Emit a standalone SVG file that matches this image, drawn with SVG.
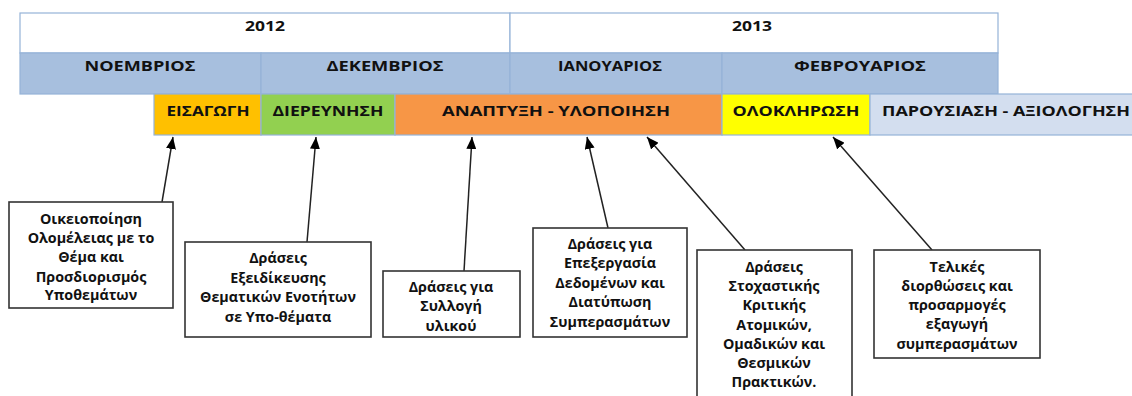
<svg xmlns="http://www.w3.org/2000/svg" width="1132" height="396" viewBox="0 0 1132 396">
<defs>
<style>
.cell{stroke:#95B3D7;stroke-width:1.2}
.hdr{font-family:"Open Sans","Liberation Sans",sans-serif;font-weight:bold;font-size:15px;fill:#111;text-anchor:middle}
.box{fill:#fff;stroke:#333;stroke-width:1.6}
.bt{font-family:"Open Sans","Liberation Sans",sans-serif;font-weight:bold;font-size:14.3px;fill:#111;text-anchor:middle}
.conn{stroke:#222;stroke-width:1.5;fill:none;marker-end:url(#ah)}
</style>
<marker id="ah" viewBox="0 0 12 10" refX="12" refY="5" markerWidth="12" markerHeight="10" markerUnits="userSpaceOnUse" orient="auto">
<path d="M0,0 L12,5 L0,10 z" fill="#000"/>
</marker>
</defs>
<rect width="1132" height="396" fill="#fff"/>

<g id="years">
<rect class="cell" x="20" y="13" width="490" height="40" fill="#fff"/>
<rect class="cell" x="510" y="13" width="488" height="40" fill="#fff"/>
<text class="hdr" x="265" y="31" textLength="40" lengthAdjust="spacingAndGlyphs">2012</text>
<text class="hdr" x="752" y="31" textLength="40" lengthAdjust="spacingAndGlyphs">2013</text>
</g>

<g id="months">
<rect class="cell" x="20" y="53" width="241" height="41" fill="#A7BFDE"/>
<rect class="cell" x="261" y="53" width="249" height="41" fill="#A7BFDE"/>
<rect class="cell" x="510" y="53" width="212" height="41" fill="#A7BFDE"/>
<rect class="cell" x="722" y="53" width="276" height="41" fill="#A7BFDE"/>
<text class="hdr" x="140" y="71" textLength="111" lengthAdjust="spacingAndGlyphs">ΝΟΕΜΒΡΙΟΣ</text>
<text class="hdr" x="385" y="71" textLength="117" lengthAdjust="spacingAndGlyphs">ΔΕΚΕΜΒΡΙΟΣ</text>
<text class="hdr" x="610" y="71" textLength="104" lengthAdjust="spacingAndGlyphs">ΙΑΝΟΥΑΡΙΟΣ</text>
<text class="hdr" x="860" y="71" textLength="132" lengthAdjust="spacingAndGlyphs">ΦΕΒΡΟΥΑΡΙΟΣ</text>
</g>

<g id="phase-eisagogi">
<rect class="cell" x="154" y="94" width="107" height="41" fill="#FFC000"/>
<text class="hdr" x="208" y="116" textLength="83" lengthAdjust="spacingAndGlyphs">ΕΙΣΑΓΩΓΗ</text>
</g>
<g id="phase-dierevnisi">
<rect class="cell" x="261" y="94" width="134" height="41" fill="#92D050"/>
<text class="hdr" x="328" y="116" textLength="111" lengthAdjust="spacingAndGlyphs">ΔΙΕΡΕΥΝΗΣΗ</text>
</g>
<g id="phase-anaptyxi">
<rect class="cell" x="395" y="94" width="327" height="41" fill="#F79646"/>
<text class="hdr" x="556" y="116" textLength="228" lengthAdjust="spacingAndGlyphs">ΑΝΑΠΤΥΞΗ - ΥΛΟΠΟΙΗΣΗ</text>
</g>
<g id="phase-oloklirosi">
<rect class="cell" x="722" y="94" width="148" height="41" fill="#FFFF00"/>
<text class="hdr" x="796" y="116" textLength="127" lengthAdjust="spacingAndGlyphs">ΟΛΟΚΛΗΡΩΣΗ</text>
</g>
<g id="phase-parousiasi">
<rect class="cell" x="870" y="94" width="270" height="41" fill="#D3DEEF"/>
<text class="hdr" x="1006" y="116" textLength="248" lengthAdjust="spacingAndGlyphs">ΠΑΡΟΥΣΙΑΣΗ - ΑΞΙΟΛΟΓΗΣΗ</text>
</g>

<g id="connectors">
<line class="conn" x1="162" y1="202" x2="173" y2="137"/>
<line class="conn" x1="307" y1="242" x2="316" y2="137"/>
<line class="conn" x1="464" y1="271" x2="472" y2="137"/>
<line class="conn" x1="608" y1="228" x2="587" y2="137"/>
<line class="conn" x1="745" y1="250" x2="647" y2="137"/>
<line class="conn" x1="932" y1="250" x2="833" y2="137"/>
</g>

<g id="box1">
<rect class="box" x="9" y="202" width="164" height="106"/>
<text class="bt" x="91" y="224">Οικειοποίηση</text>
<text class="bt" x="91" y="243">Ολομέλειας με το</text>
<text class="bt" x="91" y="262">Θέμα και</text>
<text class="bt" x="91" y="282">Προσδιορισμός</text>
<text class="bt" x="91" y="300">Υποθεμάτων</text>
</g>
<g id="box2">
<rect class="box" x="185" y="242" width="186" height="95"/>
<text class="bt" x="278" y="263">Δράσεις</text>
<text class="bt" x="278" y="283">Εξειδίκευσης</text>
<text class="bt" x="278" y="302">Θεματικών Ενοτήτων</text>
<text class="bt" x="278" y="322">σε Υπο-θέματα</text>
</g>
<g id="box3">
<rect class="box" x="383" y="271" width="137" height="66"/>
<text class="bt" x="451" y="292">Δράσεις για</text>
<text class="bt" x="451" y="311">Συλλογή</text>
<text class="bt" x="451" y="331">υλικού</text>
</g>
<g id="box4">
<rect class="box" x="533" y="228" width="154" height="109"/>
<text class="bt" x="610" y="249">Δράσεις για</text>
<text class="bt" x="610" y="268">Επεξεργασία</text>
<text class="bt" x="610" y="288">Δεδομένων και</text>
<text class="bt" x="610" y="307">Διατύπωση</text>
<text class="bt" x="610" y="327">Συμπερασμάτων</text>
</g>
<g id="box5">
<rect class="box" x="697" y="250" width="155" height="160"/>
<text class="bt" x="774" y="272">Δράσεις</text>
<text class="bt" x="774" y="291">Στοχαστικής</text>
<text class="bt" x="774" y="310">Κριτικής</text>
<text class="bt" x="774" y="330">Ατομικών,</text>
<text class="bt" x="774" y="349">Ομαδικών και</text>
<text class="bt" x="774" y="368">Θεσμικών</text>
<text class="bt" x="774" y="387">Πρακτικών.</text>
</g>
<g id="box6">
<rect class="box" x="874" y="250" width="166" height="108"/>
<text class="bt" x="957" y="272">Τελικές</text>
<text class="bt" x="957" y="291">διορθώσεις και</text>
<text class="bt" x="957" y="310">προσαρμογές</text>
<text class="bt" x="957" y="329">εξαγωγή</text>
<text class="bt" x="957" y="349">συμπερασμάτων</text>
</g>
</svg>
